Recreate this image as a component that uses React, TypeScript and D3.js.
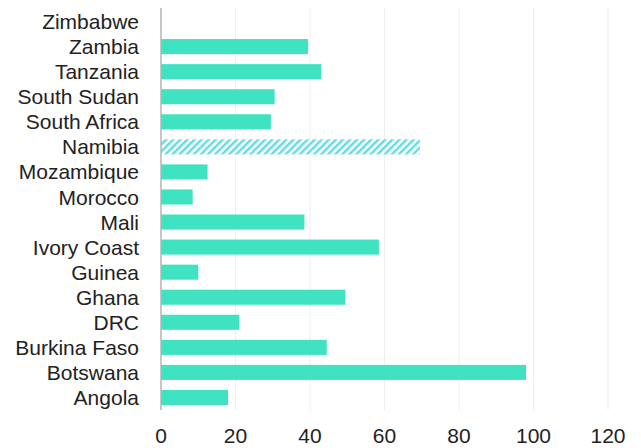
import { useEffect, useRef } from 'react';
import * as d3 from 'd3';

const countries = [
  'Zimbabwe', 'Zambia', 'Tanzania', 'South Sudan', 'South Africa', 'Namibia',
  'Mozambique', 'Morocco', 'Mali', 'Ivory Coast', 'Guinea', 'Ghana', 'DRC',
  'Burkina Faso', 'Botswana', 'Angola',
];
const values = [0, 39.5, 43, 30.5, 29.5, 69.5, 12.5, 8.5, 38.5, 58.5, 10, 49.5, 21, 44.5, 98, 18];
const hatched = ['Namibia'];
const ticks = [0, 20, 40, 60, 80, 100, 120];

const W = 641;
const H = 448;

export default function App() {
  const ref = useRef<SVGSVGElement>(null);

  useEffect(() => {
    if (!ref.current) return;
    const svg = d3.select(ref.current);
    svg.selectAll('*').remove();

    const x = d3.scaleLinear().domain([0, 120]).range([161, 608]);
    const y = d3.scaleBand<string>()
      .domain(countries)
      .range([9, 410])
      .paddingInner(0.4)
      .paddingOuter(0.2);

    const defs = svg.append('defs');
    const pat = defs.append('pattern')
      .attr('id', 'hatch')
      .attr('patternUnits', 'userSpaceOnUse')
      .attr('width', 5)
      .attr('height', 5)
      .attr('patternTransform', 'rotate(45)');
    pat.append('rect').attr('width', 5).attr('height', 5).attr('fill', '#ffffff');
    pat.append('rect').attr('width', 2.4).attr('height', 5).attr('fill', '#5edde2');

    // faint vertical grid
    svg.append('g')
      .selectAll('line')
      .data(ticks.slice(1))
      .enter()
      .append('line')
      .attr('x1', d => x(d))
      .attr('x2', d => x(d))
      .attr('y1', 8)
      .attr('y2', 410)
      .attr('stroke', '#efefef')
      .attr('stroke-width', 1);

    const rows = countries.map((c, i) => ({ c, v: values[i] }));

    svg.append('g')
      .selectAll('rect')
      .data(rows.filter(d => d.v > 0))
      .enter()
      .append('rect')
      .attr('x', x(0))
      .attr('y', d => y(d.c)!)
      .attr('width', d => x(d.v) - x(0))
      .attr('height', y.bandwidth())
      .attr('fill', d => (hatched.includes(d.c) ? 'url(#hatch)' : '#3fe2c1'));

    // zero axis line
    svg.append('line')
      .attr('x1', x(0))
      .attr('x2', x(0))
      .attr('y1', 8)
      .attr('y2', 410)
      .attr('stroke', '#b5b5b5')
      .attr('stroke-width', 1.5);

    svg.append('g')
      .selectAll('text')
      .data(countries)
      .enter()
      .append('text')
      .attr('x', 139)
      .attr('y', d => y(d)! + y.bandwidth() / 2)
      .attr('dy', '0.36em')
      .attr('text-anchor', 'end')
      .attr('font-family', '"Liberation Sans", Arial, sans-serif')
      .attr('font-size', 21)
      .attr('fill', '#222')
      .text(d => d);

    svg.append('g')
      .selectAll('text')
      .data(ticks)
      .enter()
      .append('text')
      .attr('x', d => x(d))
      .attr('y', 443)
      .attr('text-anchor', 'middle')
      .attr('font-family', '"Liberation Sans", Arial, sans-serif')
      .attr('font-size', 21)
      .attr('fill', '#222')
      .text(d => String(d));
  }, []);

  return (
    <svg
      ref={ref}
      width={W}
      height={H}
      style={{ position: 'absolute', left: 0, top: 0, background: '#fff' }}
    />
  );
}
